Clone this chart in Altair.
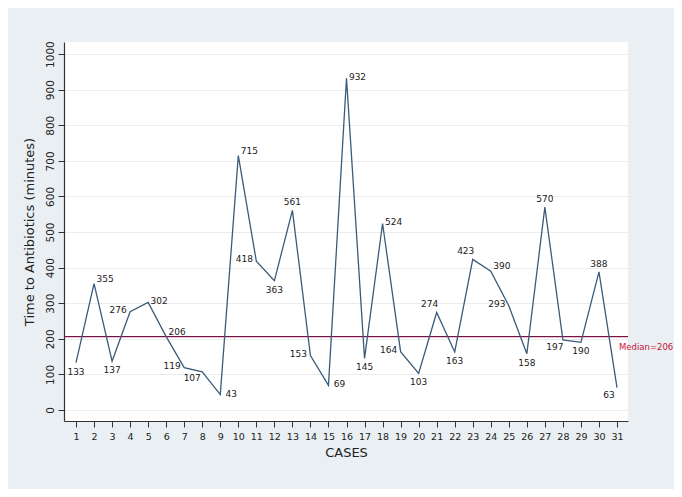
import altair as alt
import pandas as pd

# ---- data ----
cases = list(range(1, 32))
minutes = [133, 355, 137, 276, 302, 206, 119, 107, 43, 715,
           418, 363, 561, 153, 69, 932, 145, 524, 164, 103,
           274, 163, 423, 390, 293, 158, 570, 197, 190, 388, 63]
# marker-label clock position (Stata style)
label_clock = [6, 2, 6, 9, 3, 2, 9, 8, 3, 2,
               9, 6, 12, 9, 3, 3, 6, 3, 9, 6,
               11, 6, 11, 2, 9, 6, 12, 7, 6, 12, 7]
median_value = 206
median_text = "Median=206"
y_ticks = [0, 100, 200, 300, 400, 500, 600, 700, 800, 900, 1000]

# ---- styling ----
clock_offsets = {
    12: (0, -8),
    11: (-7, -8),
    2: (11, -5),
    3: (11, -1),
    9: (-12, -2),
    8: (-10, 6),
    7: (-8, 7),
    6: (0, 9),
}
X_DOMAIN = [0.334, 31.61]
Y_DOMAIN = [-31, 1034]
FONT = "DejaVu Sans"
LINE_COLOR = "#3a5b7a"
MEDIAN_COLOR = "#7b1347"
MEDIAN_LABEL_COLOR = "#c8103c"

df = pd.DataFrame({"case": cases, "minutes": minutes, "clock": label_clock})
med_df = pd.DataFrame({"case": [X_DOMAIN[1]], "minutes": [median_value], "label": [median_text]})

x_enc = alt.X(
    "case:Q",
    scale=alt.Scale(domain=X_DOMAIN, nice=False, zero=False),
    axis=alt.Axis(
        title="CASES", values=cases, grid=False, tickSize=6,
        labelFontSize=9.5, labelPadding=4, labelFlush=False, labelOverlap=False,
        titleFontSize=13, titlePadding=6, titleFontWeight="normal", format="d",
    ),
)
y_enc = alt.Y(
    "minutes:Q",
    scale=alt.Scale(domain=Y_DOMAIN, nice=False, zero=False),
    axis=alt.Axis(
        title="Time to Antibiotics (minutes)", values=y_ticks, grid=True,
        tickSize=6, labelAngle=270, labelAlign="center", labelBaseline="bottom",
        labelFontSize=10.5, labelPadding=3, labelFlush=False, labelOverlap=False,
        titleFontSize=13, titlePadding=9, titleFontWeight="normal", format="d",
    ),
)

base = alt.Chart(df)

line = base.mark_line(color=LINE_COLOR, strokeWidth=1.3).encode(x=x_enc, y=y_enc)

median_rule = alt.Chart(med_df).mark_rule(color=MEDIAN_COLOR, strokeWidth=1.3).encode(
    y=y_enc
)

median_label = alt.Chart(med_df).mark_text(
    align="left", baseline="middle", dx=-9, dy=10, font=FONT, fontSize=8.5,
    color=MEDIAN_LABEL_COLOR, clip=False,
).encode(x=x_enc, y=y_enc, text="label:N")

text_layers = []
for clock, (ddx, ddy) in clock_offsets.items():
    text_layers.append(
        base.transform_filter(alt.datum.clock == clock)
        .mark_text(dx=ddx, dy=ddy, align="center", baseline="middle",
                   font=FONT, fontSize=9, color="#1a1a1a")
        .encode(x=x_enc, y=y_enc, text="minutes:Q")
    )

chart = (
    alt.layer(median_rule, line, *text_layers, median_label)
    .properties(
        width=564, height=379,
        background="#e9eff2",
        padding={"left": 56, "top": 34, "right": 46, "bottom": 68},
        autosize=alt.AutoSizeParams(type="none"),
    )
    .configure_view(stroke=None, fill="white")
    .configure_axis(
        domainColor="#333333", tickColor="#333333", labelColor="#222222",
        titleColor="#222222", labelFont=FONT, titleFont=FONT,
        gridColor="#ececec", gridWidth=1, domainWidth=1.2, tickWidth=1,
    )
)

chart.save("out.html", embed_options={"renderer": "svg", "actions": False})
